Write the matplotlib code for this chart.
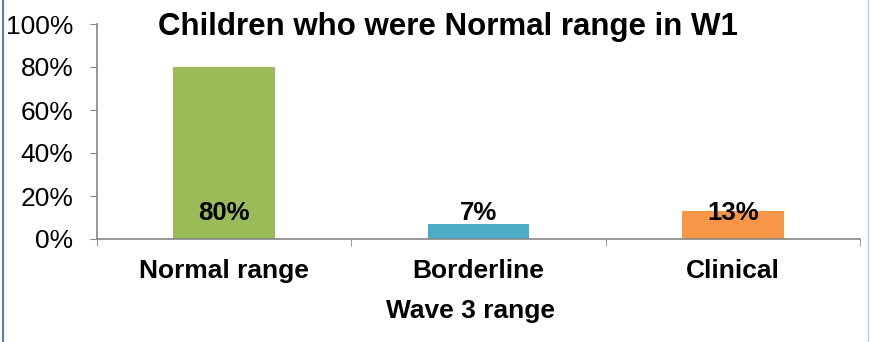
import matplotlib
matplotlib.use("Agg")
import matplotlib.pyplot as plt
from matplotlib.lines import Line2D

plt.rcParams['font.family'] = ['Liberation Sans', 'DejaVu Sans']

categories = ["Normal range", "Borderline", "Clinical"]
values = [80, 7, 13]
colors = ["#9BBB59", "#4BACC6", "#F79646"]
yticks = [0, 20, 40, 60, 80, 100]
ytick_labels = ["0%", "20%", "40%", "60%", "80%", "100%"]
title = "Children who were Normal range in W1"
xlabel = "Wave 3 range"
label_y = 12  # vertical placement of data labels (percent units)

fig = plt.figure(figsize=(8.71, 3.42), dpi=100)
ax = fig.add_axes([97/871, 1 - 239/342, (860 - 97)/871, (239 - 24)/342])

x = list(range(len(categories)))
ax.bar(x, values, width=0.4, color=colors, zorder=2)
for xi, v in zip(x, values):
    ax.text(xi, label_y, f"{v}%", ha="center", va="center",
            fontsize=18.5, fontweight="bold", color="black", zorder=3)

ax.set_xlim(-0.5, 2.5)
ax.set_ylim(0, 100)
ax.set_yticks(yticks)
ax.set_yticklabels(ytick_labels, fontsize=19)
ax.set_xticks(x)
ax.set_xticklabels(categories, fontsize=19, fontweight="bold")
ax.tick_params(axis="x", length=0, pad=14.5)
ax.set_xticks([-0.5, 0.5, 1.5, 2.5], minor=True)
ax.tick_params(axis="x", which="minor", length=5, color="#868686", direction="out")
ax.tick_params(axis="y", length=5, color="#868686", direction="out", pad=12)

for s in ["top", "right"]:
    ax.spines[s].set_visible(False)
for s in ["left", "bottom"]:
    ax.spines[s].set_color("#868686")
    ax.spines[s].set_linewidth(1.2)

fig.text(470/871, 1 - 318/342, xlabel, ha="center", va="baseline",
         fontsize=19, fontweight="bold")
fig.text(448/871, 1 - 35/342, title, ha="center", va="baseline",
         fontsize=22.5, fontweight="bold")

# frame edges of the chart area
fig.add_artist(Line2D([3/871, 3/871], [0, 1], transform=fig.transFigure,
                      color="#4F81BD", linewidth=1.5))
fig.add_artist(Line2D([867.5/871, 867.5/871], [0, 1], transform=fig.transFigure,
                      color="#B9C9E4", linewidth=1.0))

fig.savefig("out.png", dpi=100)
